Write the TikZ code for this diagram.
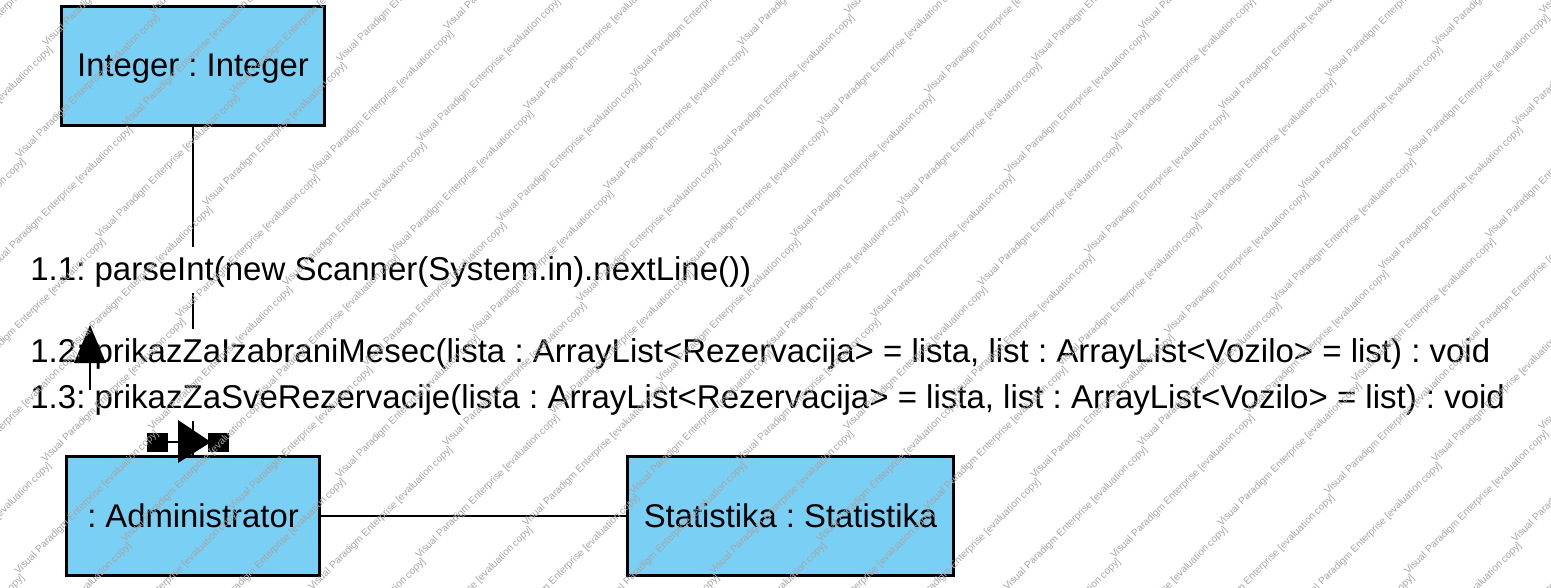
\documentclass[tikz,border=0pt]{standalone}
\usepackage{fontspec}
\setmainfont{Liberation Sans}
\definecolor{boxblue}{RGB}{122,207,245}
\definecolor{wm}{RGB}{165,165,165}
\begin{document}
\frenchspacing
\begin{tikzpicture}[x=0.5pt,y=-0.5pt,
  obj/.style={draw=black, line width=1.5pt, fill=boxblue, minimum height=59.5pt, inner sep=0pt, text height=13pt, text depth=2pt, font=\fontsize{16.4}{19}\selectfont},
  lbl/.style={anchor=base west, fill=white, inner sep=0pt, text height=16.5pt, text depth=6.5pt, font=\fontsize{16.5}{19}\selectfont},
  link/.style={line width=1.25pt},
  sqbox/.style={fill=black, minimum width=10.5pt, minimum height=9.5pt, inner sep=0pt},
  wmark/.style={anchor=base west, rotate=45, text=wm, inner sep=0pt, font=\fontsize{5}{6}\selectfont}]
\useasboundingbox (0,0) rectangle (1551,588);
\node[obj, minimum width=131.5pt] (int) at (193,66) {Integer : Integer};
\node[obj, minimum width=126.5pt] (admin) at (193,516) {: Administrator};
\node[obj, minimum width=163pt] (stat) at (790.5,516) {Statistika : Statistika};
\draw[link] (int.south) -- (admin.north);
\draw[link] (admin.east) -- (stat.west);
\node[lbl] (l11) at (30,280) {1.1: parseInt(new Scanner(System.in).nextLine())};
\node[lbl] (l12) at (30,362) {1.2: prikazZaIzabraniMesec(lista : ArrayList<Rezervacija> = lista, list : ArrayList<Vozilo> = list) : void};
\node[lbl] (l13) at (30,408) {1.3: prikazZaSveRezervacije(lista : ArrayList<Rezervacija> = lista, list : ArrayList<Vozilo> = list) : void};
% arrow for 1.1
\coordinate (a11s) at (90,390);
\coordinate (a11e) at (90,362);
\draw[link] (a11s) -- (a11e);
\fill (90,325) -- (74,363) -- (106,363) -- cycle;
% arrow for 1.2 / 1.3
\node[sqbox] (sq1) at (157,442) {};
\node[sqbox] (sq2) at (218,442) {};
\draw[link] (sq1) -- (sq2);
\fill (178,420) -- (211,442) -- (178,463) -- cycle;
% watermark
\begin{scope}
\clip (0,0) rectangle (1551,588);
\foreach \i in {-12,...,8}{\foreach \j in {-5,...,8}{
  \node[wmark] at ({1035+107*\i-27*\j},{63-32*\i+112*\j}) {Visual Paradigm Enterprise [evaluation copy]};
}}
\end{scope}
\end{tikzpicture}
\end{document}
